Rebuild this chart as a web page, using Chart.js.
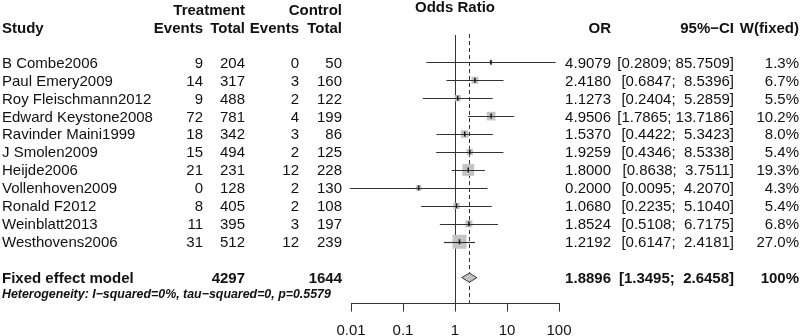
<!DOCTYPE html>
<html>
<head>
<meta charset="utf-8">
<script src="https://cdn.jsdelivr.net/npm/chart.js"></script>
<style>
  body { margin: 0; background: #fff; }
  canvas { display: block; }
</style>
</head>
<body>
<canvas id="forest" width="800" height="336"></canvas>
<script>
// Study data
const studies = ["B Combe2006", "Paul Emery2009", "Roy Fleischmann2012", "Edward Keystone2008",
  "Ravinder Maini1999", "J Smolen2009", "Heijde2006", "Vollenhoven2009", "Ronald F2012",
  "Weinblatt2013", "Westhovens2006"];
const treatEvents = [9, 14, 9, 72, 18, 15, 21, 0, 8, 11, 31];
const treatTotal = [204, 317, 488, 781, 342, 494, 231, 128, 405, 395, 512];
const ctrlEvents = [0, 3, 2, 4, 3, 2, 12, 2, 2, 3, 12];
const ctrlTotal = [50, 160, 122, 199, 86, 125, 228, 130, 108, 197, 239];
const oddsRatio = [4.9079, 2.4180, 1.1273, 4.9506, 1.5370, 1.9259, 1.8000, 0.2000, 1.0680, 1.8524, 1.2192];
const ciLow = [0.2809, 0.6847, 0.2404, 1.7865, 0.4422, 0.4346, 0.8638, 0.0095, 0.2235, 0.5108, 0.6147];
const ciHigh = [85.7509, 8.5396, 5.2859, 13.7186, 5.3423, 8.5338, 3.7511, 4.2070, 5.1040, 6.7175, 2.4181];
const weightFixed = [1.3, 6.7, 5.5, 10.2, 8.0, 5.4, 19.3, 4.3, 5.4, 6.8, 27.0];

// Pooled (fixed effect)
const pooledOR = 1.8896;
const pooledLow = 1.3495;
const pooledHigh = 2.6458;
const pooledTreatTotal = 4297;
const pooledCtrlTotal = 1644;
const heterogeneity = "Heterogeneity: I\u2212squared=0%, tau\u2212squared=0, p=0.5579";

// x axis
const tickValues = [0.01, 0.1, 1, 10, 100];
const tickLabels = ["0.01", "0.1", "1", "10", "100"];

const pooledRow = 12;
const TXT = "#111";
const LINE = "#333";
const FONT = "'Liberation Sans', Arial, sans-serif";

function fmtCI(lo, hi) {
  return "[" + lo.toFixed(4) + "; " + hi.toFixed(4).padStart(7, " ") + "]";
}

// zeichnet Linien, KI-Balken, Raute und alle Texte
const forestPlugin = {
  id: "forest",
  beforeDatasetsDraw(chart) {
    const { ctx, chartArea, scales: { x } } = chart;
    ctx.save();
    ctx.strokeStyle = LINE;
    ctx.lineWidth = 1;
    // Nulleffekt-Linie
    const x1 = Math.round(x.getPixelForValue(1)) + 0.5;
    ctx.beginPath();
    ctx.moveTo(x1, chartArea.top);
    ctx.lineTo(x1, chartArea.bottom);
    ctx.stroke();
    // gepoolter Effekt, gestrichelt
    const xp = Math.round(x.getPixelForValue(pooledOR)) + 0.5;
    ctx.setLineDash([4, 3]);
    ctx.beginPath();
    ctx.moveTo(xp, chartArea.top - 1);
    ctx.lineTo(xp, chartArea.bottom);
    ctx.stroke();
    ctx.restore();
  },
  afterDatasetsDraw(chart) {
    const { ctx, scales: { x, y } } = chart;
    ctx.save();
    ctx.strokeStyle = LINE;
    ctx.lineWidth = 1.2;
    for (let i = 0; i < studies.length; i++) {
      const py = Math.round(y.getPixelForValue(i)) + 0.5;
      ctx.beginPath();
      ctx.moveTo(x.getPixelForValue(ciLow[i]), py);
      ctx.lineTo(x.getPixelForValue(ciHigh[i]), py);
      ctx.stroke();
    }
    // Raute
    const dy = y.getPixelForValue(pooledRow);
    ctx.beginPath();
    ctx.moveTo(x.getPixelForValue(pooledLow), dy);
    ctx.lineTo(x.getPixelForValue(pooledOR), dy - 4.5);
    ctx.lineTo(x.getPixelForValue(pooledHigh), dy);
    ctx.lineTo(x.getPixelForValue(pooledOR), dy + 4.5);
    ctx.closePath();
    ctx.fillStyle = "#c4c4c4";
    ctx.fill();
    ctx.lineWidth = 1;
    ctx.stroke();
    // Punktschaetzer-Striche
    ctx.strokeStyle = "#111";
    ctx.lineWidth = 1.5;
    for (let i = 0; i < studies.length; i++) {
      const px = x.getPixelForValue(oddsRatio[i]);
      const py = y.getPixelForValue(i);
      ctx.beginPath();
      ctx.moveTo(px, py - 2.5);
      ctx.lineTo(px, py + 2.5);
      ctx.stroke();
    }
    ctx.restore();
  },
  afterDraw(chart) {
    const { ctx, scales: { x, y } } = chart;
    ctx.save();
    ctx.fillStyle = TXT;
    ctx.textBaseline = "alphabetic";
    const put = (t, px, cy, align, font) => {
      ctx.font = font;
      ctx.textAlign = align;
      ctx.fillText(t, px, cy + 5.4);
    };
    const reg = "15px " + FONT;
    const bold = "bold 15px " + FONT;

    // Kopfzeilen
    put("Odds Ratio", x.getPixelForValue(1), 6.7, "center", bold);
    put("Treatment", 245, 10, "right", bold);
    put("Control", 342, 10, "right", bold);
    put("Study", 2, 27.3, "left", bold);
    put("Events", 203, 27.3, "right", bold);
    put("Total", 245, 27.3, "right", bold);
    put("Events", 299, 27.3, "right", bold);
    put("Total", 342, 27.3, "right", bold);
    put("OR", 611, 27.3, "right", bold);
    put("95%\u2212CI", 734, 27.3, "right", bold);
    put("W(fixed)", 799, 27.3, "right", bold);

    for (let i = 0; i < studies.length; i++) {
      const cy = y.getPixelForValue(i);
      put(studies[i], 2, cy, "left", reg);
      put(String(treatEvents[i]), 203, cy, "right", reg);
      put(String(treatTotal[i]), 245, cy, "right", reg);
      put(String(ctrlEvents[i]), 299, cy, "right", reg);
      put(String(ctrlTotal[i]), 342, cy, "right", reg);
      put(oddsRatio[i].toFixed(4), 611, cy, "right", reg);
      put(fmtCI(ciLow[i], ciHigh[i]), 734, cy, "right", reg);
      put(weightFixed[i].toFixed(1) + "%", 799, cy, "right", reg);
    }

    const fy = y.getPixelForValue(pooledRow);
    put("Fixed effect model", 2, fy, "left", bold);
    put(String(pooledTreatTotal), 245, fy, "right", bold);
    put(String(pooledCtrlTotal), 342, fy, "right", bold);
    put(pooledOR.toFixed(4), 611, fy, "right", bold);
    put(fmtCI(pooledLow, pooledHigh), 734, fy, "right", bold);
    put("100%", 799, fy, "right", bold);
    put(heterogeneity, 2, fy + 14.7, "left", "italic bold 12.4px " + FONT);
    ctx.restore();
  }
};

new Chart(document.getElementById("forest"), {
  type: "scatter",
  data: {
    datasets: [
      {
        // Gewichtsquadrate
        data: oddsRatio.map((v, i) => ({ x: v, y: i })),
        pointStyle: "rect",
        pointRadius: c => Math.sqrt(weightFixed[c.dataIndex]) * 1.9,
        pointBackgroundColor: "#c4c4c4",
        pointBorderWidth: 0,
        clip: false
      }
    ]
  },
  options: {
    responsive: false,
    animation: false,
    events: [],
    layout: { padding: { left: 351, right: 241, top: 35, bottom: 0 } },
    plugins: { legend: { display: false }, tooltip: { enabled: false } },
    scales: {
      x: {
        type: "logarithmic",
        min: 0.01,
        max: 100,
        afterBuildTicks: s => { s.ticks = tickValues.map(v => ({ value: v })); },
        afterFit: s => { s.height = 32.5; },
        grid: { display: true, drawOnChartArea: false, drawTicks: true, tickLength: 8, color: LINE },
        border: { display: true, color: LINE },
        ticks: {
          autoSkip: false,
          maxRotation: 0,
          padding: 10,
          color: TXT,
          font: { family: FONT, size: 15 },
          callback: (v, i) => tickLabels[i]
        }
      },
      y: {
        type: "linear",
        display: false,
        reverse: true,
        min: -1.52,
        max: 13.44
      }
    }
  },
  plugins: [forestPlugin]
});
</script>
</body>
</html>
